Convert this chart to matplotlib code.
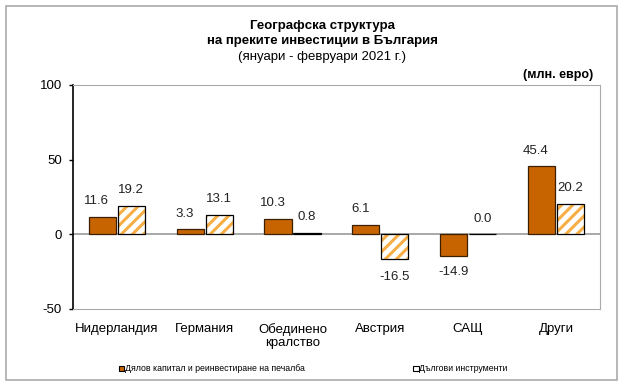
import matplotlib
matplotlib.use("Agg")
import matplotlib.pyplot as plt
import matplotlib.patches as mpatches
import numpy as np

categories = ["Нидерландия", "Германия", "Обединено\nкралство", "Австрия", "САЩ", "Други"]
equity = [11.6, 3.3, 10.3, 6.1, -14.9, 45.4]
debt = [19.2, 13.1, 0.8, -16.5, 0.0, 20.2]
series_names = ["Дялов капитал и реинвестиране на печалба", "Дългови инструменти"]
yticks = [-50, 0, 50, 100]

plt.rcParams['font.family'] = ['Liberation Sans', 'DejaVu Sans']
plt.rcParams['hatch.linewidth'] = 2.2

solid = "#C86400"
stripe = "#F7AE45"

fig = plt.figure(figsize=(6.23, 3.88), dpi=100)
ax = fig.add_axes([0.117, 0.204, 0.846, 0.577])

x = np.arange(len(categories))
w = 0.31
gap = 0.02
ax.bar(x - w/2 - gap/2, equity, w, color=solid, edgecolor="#3a2000", linewidth=0.9, zorder=3)
ax.bar(x + w/2 + gap/2, debt, w, color="white", edgecolor=stripe, hatch="///", linewidth=0, zorder=3)
ax.bar(x + w/2 + gap/2, debt, w, color="none", edgecolor="black", linewidth=0.9, zorder=4)

for xi, v in zip(x - w/2 - gap/2, equity):
    ax.annotate(f"{v:.1f}", (xi, v), xytext=(-4 if v >= 0 else 0, 7 if v >= 0 else -7),
                textcoords="offset points", ha="center",
                va="bottom" if v >= 0 else "top", fontsize=9.5, color="#222222")
for xi, v in zip(x + w/2 + gap/2, debt):
    ax.annotate(f"{v:.1f}", (xi, v), xytext=(0, 7 if v >= 0 else -9),
                textcoords="offset points", ha="center",
                va="bottom" if v >= 0 else "top", fontsize=9.5, color="#222222")

ax.set_xlim(-0.5, len(categories) - 0.5)
ax.set_ylim(-50, 100)
ax.set_yticks(yticks)
ax.set_yticklabels([str(t) for t in yticks], fontsize=9.5)
ax.set_xticks(x)
ax.set_xticklabels(categories, fontsize=9.5, linespacing=1.1)
ax.tick_params(axis='x', length=0, pad=10)
ax.tick_params(axis='y', length=3, width=1, direction='out', pad=5)
ax.axhline(0, color="#999999", linewidth=1.2, zorder=2)
for s in ["top", "right", "bottom"]:
    ax.spines[s].set_color("#aaaaaa")
    ax.spines[s].set_linewidth(0.8)
ax.spines["left"].set_color("black")
ax.spines["left"].set_linewidth(1.2)

fig.text(0.517, 0.933, "Географска структура", ha="center", va="center", fontsize=9.5, fontweight="bold")
fig.text(0.517, 0.894, "на преките инвестиции в България", ha="center", va="center", fontsize=9.5, fontweight="bold")
fig.text(0.517, 0.853, "(януари - февруари 2021 г.)", ha="center", va="center", fontsize=9.5)
fig.text(0.952, 0.807, "(млн. евро)", ha="right", va="center", fontsize=9, fontweight="bold")

h1 = mpatches.Patch(facecolor=solid, edgecolor="black", linewidth=0.8)
h2 = mpatches.Patch(facecolor="white", edgecolor="black", linewidth=0.8)
fig.legend([h1, h2], series_names, loc="center", bbox_to_anchor=(0.503, 0.049), ncol=2,
           frameon=False, fontsize=6.3, handlelength=0.6, handleheight=0.6, handletextpad=0.1,
           columnspacing=12.4)

fig.patches.append(mpatches.Rectangle((0.0096, 0.0206), 0.981, 0.964, transform=fig.transFigure,
                                      fill=False, edgecolor="#aaaaaa", linewidth=1.2))

fig.savefig("out.png", dpi=100)
